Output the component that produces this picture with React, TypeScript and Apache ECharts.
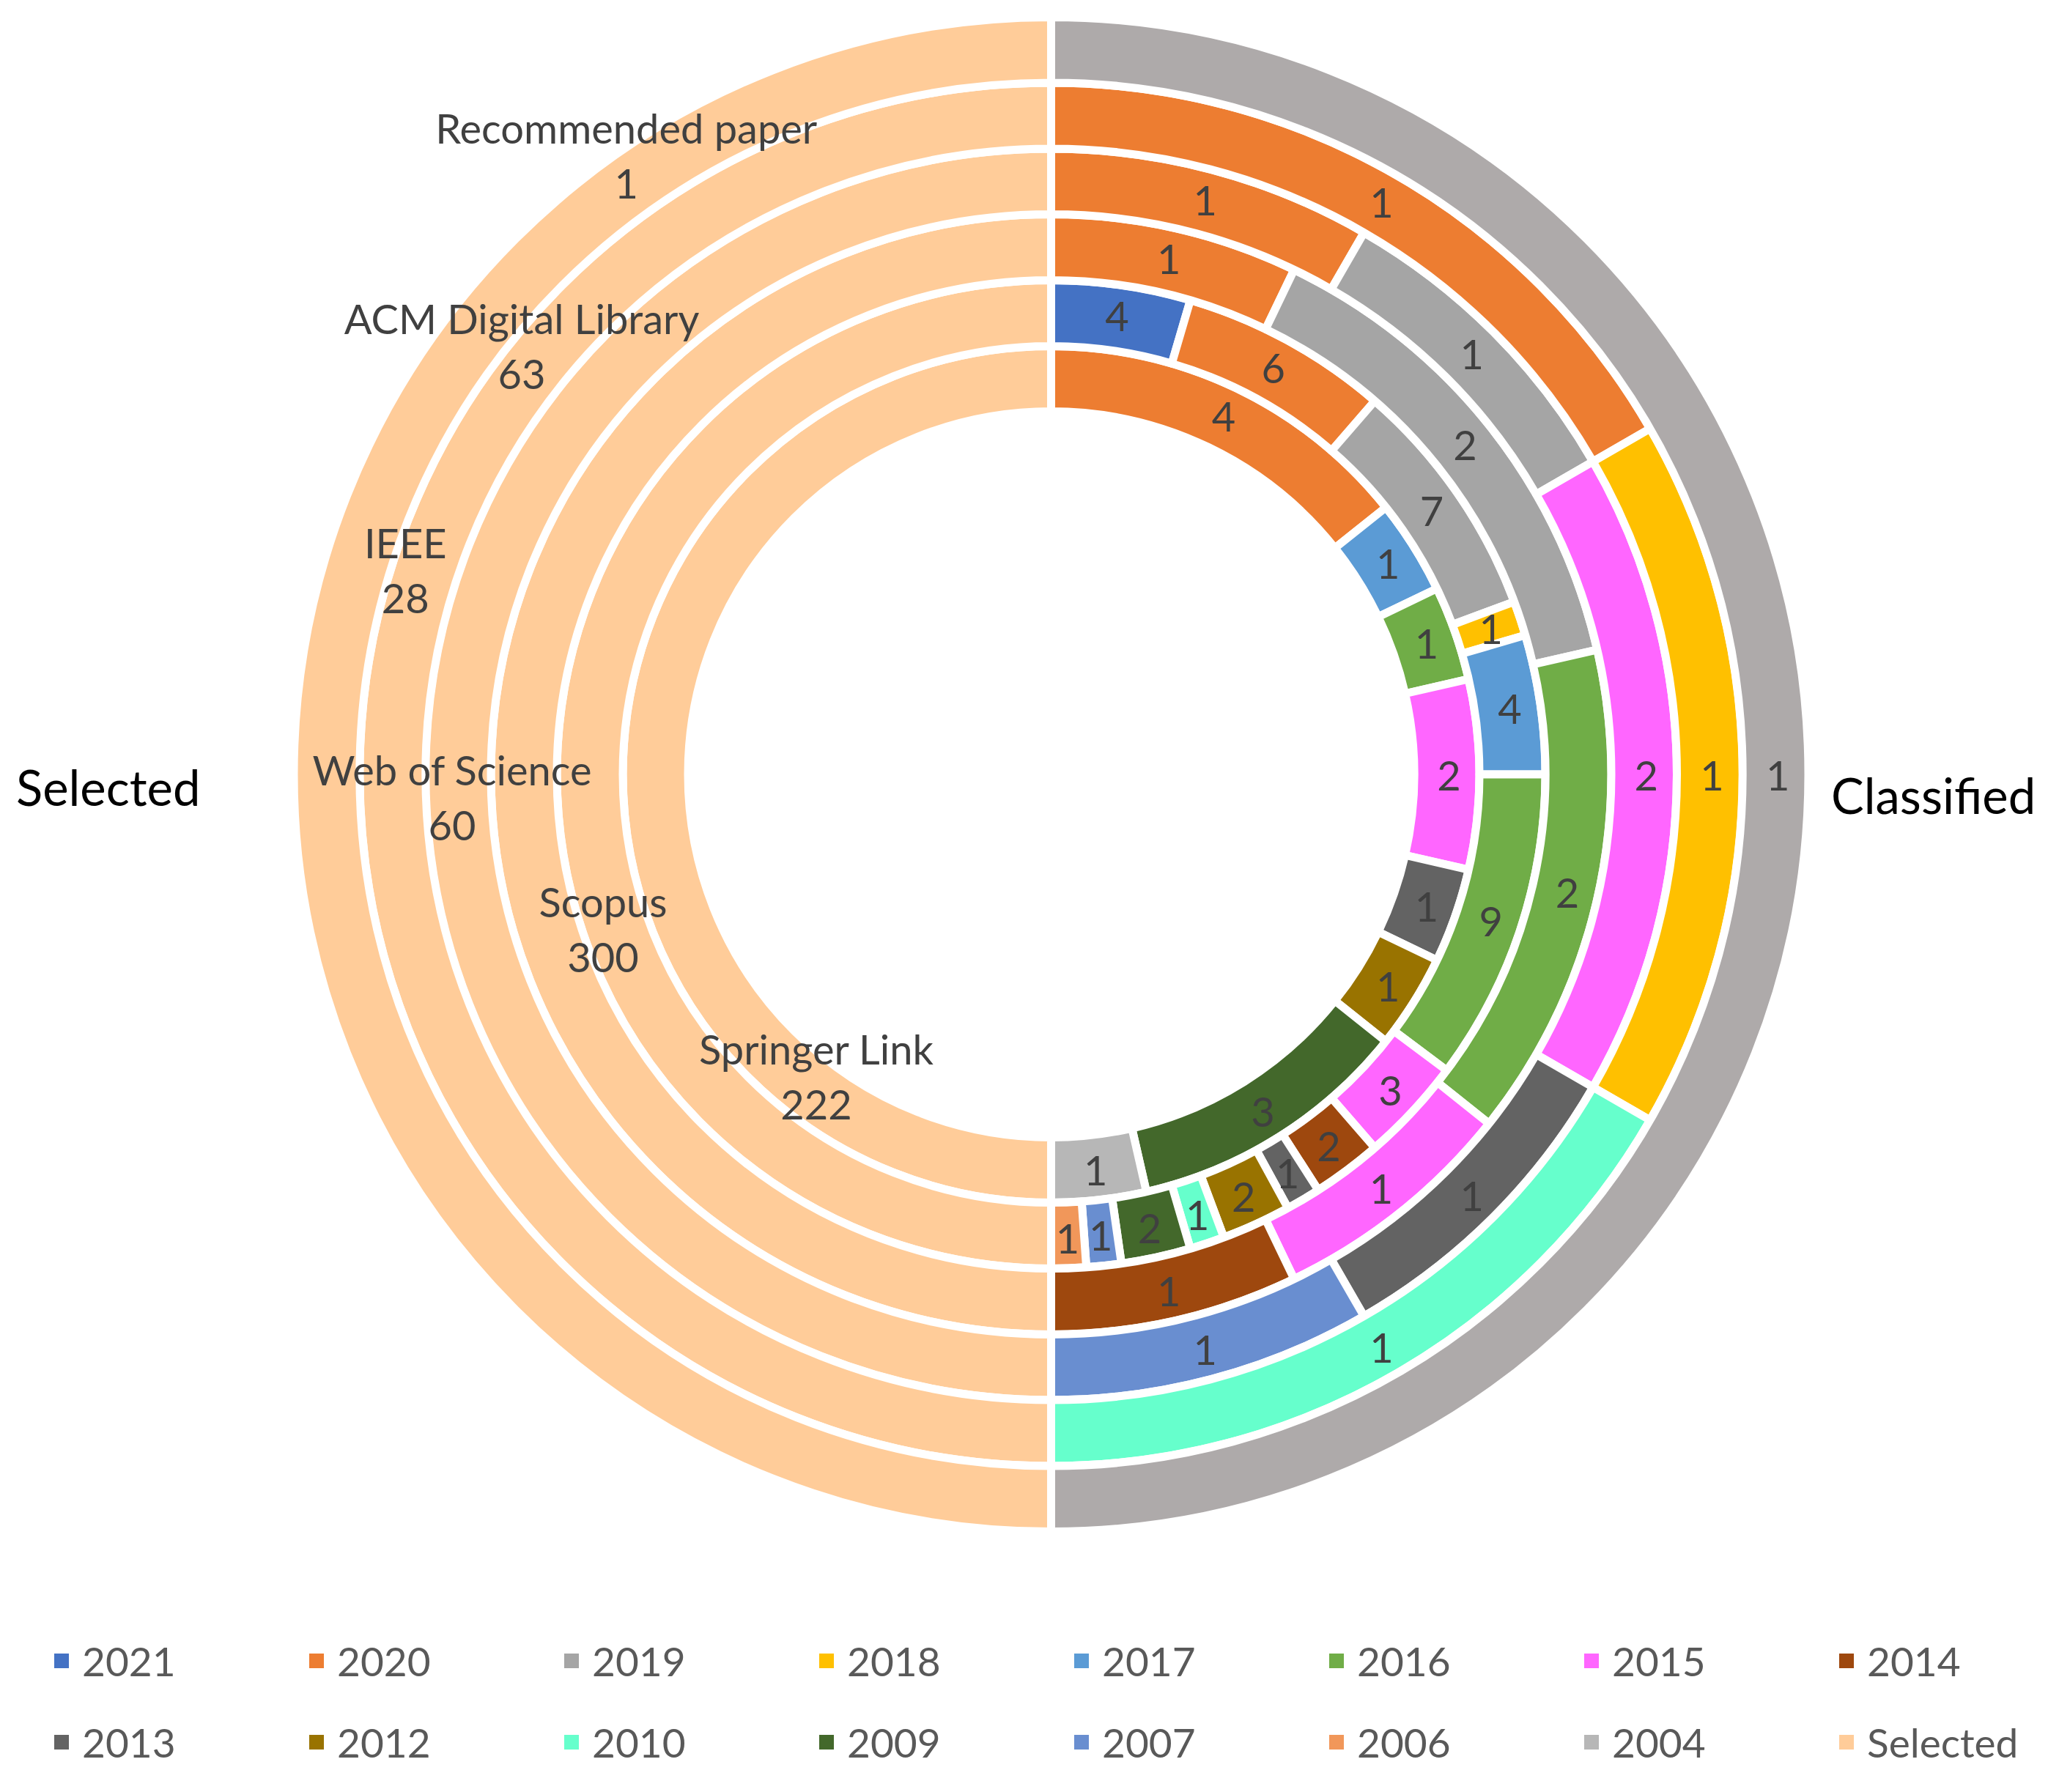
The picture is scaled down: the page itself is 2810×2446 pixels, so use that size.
import React, { useEffect, useRef } from "react";
import * as echarts from "echarts";

// ---- categories & colours ----
const legendNames = [
  "2021", "2020", "2019", "2018", "2017", "2016", "2015", "2014",
  "2013", "2012", "2010", "2009", "2007", "2006", "2004", "Selected",
];
const legendColors = [
  "#4472C4", "#ED7D31", "#A5A5A5", "#FFC000", "#5B9BD5", "#70AD47", "#FF66FF", "#9E480E",
  "#636363", "#997300", "#66FFCC", "#43682B", "#698ED0", "#F1975A", "#B7B7B7", "#FFCC99",
];
const classifiedOuterColor = "#AEAAAA";

// ---- sources (rings from inside to outside) ----
const sources = ["Springer Link", "Scopus", "Web of Science", "IEEE", "ACM Digital Library", "Recommended paper"];
const selectedCounts = [222, 300, 60, 28, 63, 1];

// ---- classified papers per year, clockwise from the top ----
const ring1Years = ["2020", "2017", "2016", "2015", "2013", "2012", "2009", "2004"];
const ring1Values = [4, 1, 1, 2, 1, 1, 3, 1];
const ring2Years = ["2021", "2020", "2019", "2018", "2017", "2016", "2015", "2014", "2013", "2012", "2010", "2009", "2007", "2006"];
const ring2Values = [4, 6, 7, 1, 4, 9, 3, 2, 1, 2, 1, 2, 1, 1];
const ring3Years = ["2020", "2019", "2016", "2015", "2014"];
const ring3Values = [1, 2, 2, 1, 1];
const ring4Years = ["2020", "2019", "2015", "2013", "2007"];
const ring4Values = [1, 1, 2, 1, 1];
const ring5Years = ["2020", "2018", "2010"];
const ring5Values = [1, 1, 1];
const ring6Years = ["Classified"];
const ring6Values = [1];

const ringYears = [ring1Years, ring2Years, ring3Years, ring4Years, ring5Years, ring6Years];
const ringValues = [ring1Values, ring2Values, ring3Values, ring4Values, ring5Values, ring6Values];

// ---- layout (positions / sizes) ----
const CX = 1434.5;
const CY = 1057;
const RADII = [495.5, 584.5, 674.5, 764.5, 854, 944, 1033.5];
const selectedLabelOffsets = [
  [222.5, 412],
  [21, 211],
  [-95, 31],
  [-69, -279],
  [179.5, -585],
  [412, -845],
];
const FONT = "Lato";
const LABEL_SIZE = 56;

function colorOf(name: string): string {
  const i = legendNames.indexOf(name);
  return i >= 0 ? legendColors[i] : classifiedOuterColor;
}

export default function App() {
  const ref = useRef<HTMLDivElement>(null);

  useEffect(() => {
    if (!ref.current) return;
    const chart = echarts.init(ref.current, undefined, { renderer: "svg" });

    const series = ringYears.map((years, k) => {
      const vals = ringValues[k];
      const total = vals.reduce((a, b) => a + b, 0);
      const data: any[] = years.map((y, i) => ({
        name: y,
        value: vals[i],
        itemStyle: { color: colorOf(y) },
      }));
      data.push({
        name: "Selected",
        value: total,
        itemStyle: { color: colorOf("Selected") },
        label: {
          formatter: `${sources[k]}\n${selectedCounts[k]}`,
          offset: selectedLabelOffsets[k],
          lineHeight: 75,
        },
      });
      return {
        type: "pie",
        name: sources[k],
        center: [CX, CY],
        radius: [RADII[k], RADII[k + 1]],
        startAngle: 90,
        clockwise: true,
        avoidLabelOverlap: false,
        silent: true,
        emphasis: { disabled: true },
        itemStyle: { borderColor: "#ffffff", borderWidth: 11 },
        label: {
          show: true,
          position: "inside",
          rotate: 0,
          formatter: "{c}",
          fontFamily: FONT,
          fontSize: LABEL_SIZE,
          color: "#404040",
        },
        labelLine: { show: false },
        data,
      };
    });

    const legends = legendNames.map((name, i) => ({
      show: true,
      orient: "horizontal",
      left: 67 + (i % 8) * 348,
      top: i < 8 ? 2232 : 2343,
      icon: "rect",
      itemWidth: 22,
      itemHeight: 22,
      selectedMode: false,
      data: [{ name, itemStyle: { color: legendColors[i] } }],
      textStyle: {
        fontFamily: FONT,
        fontSize: 55,
        color: "#595959",
        lineHeight: 60,
        padding: [0, 0, 0, 12],
      },
    }));

    chart.setOption({
      animation: false,
      backgroundColor: "#ffffff",
      legend: legends,
      series,
      graphic: [
        {
          type: "text",
          x: 22,
          y: 1074,
          style: {
            text: "Selected",
            fontFamily: FONT,
            fontSize: 67,
            fill: "#000000",
            align: "left",
            verticalAlign: "middle",
          },
        },
        {
          type: "text",
          x: 2499,
          y: 1085,
          style: {
            text: "Classified",
            fontFamily: FONT,
            fontSize: 67,
            fill: "#000000",
            align: "left",
            verticalAlign: "middle",
          },
        },
      ],
    });

    return () => {
      chart.dispose();
    };
  }, []);

  return (
    <div
      ref={ref}
      style={{ position: "fixed", left: 0, top: 0, width: 2810, height: 2446, background: "#fff" }}
    />
  );
}
